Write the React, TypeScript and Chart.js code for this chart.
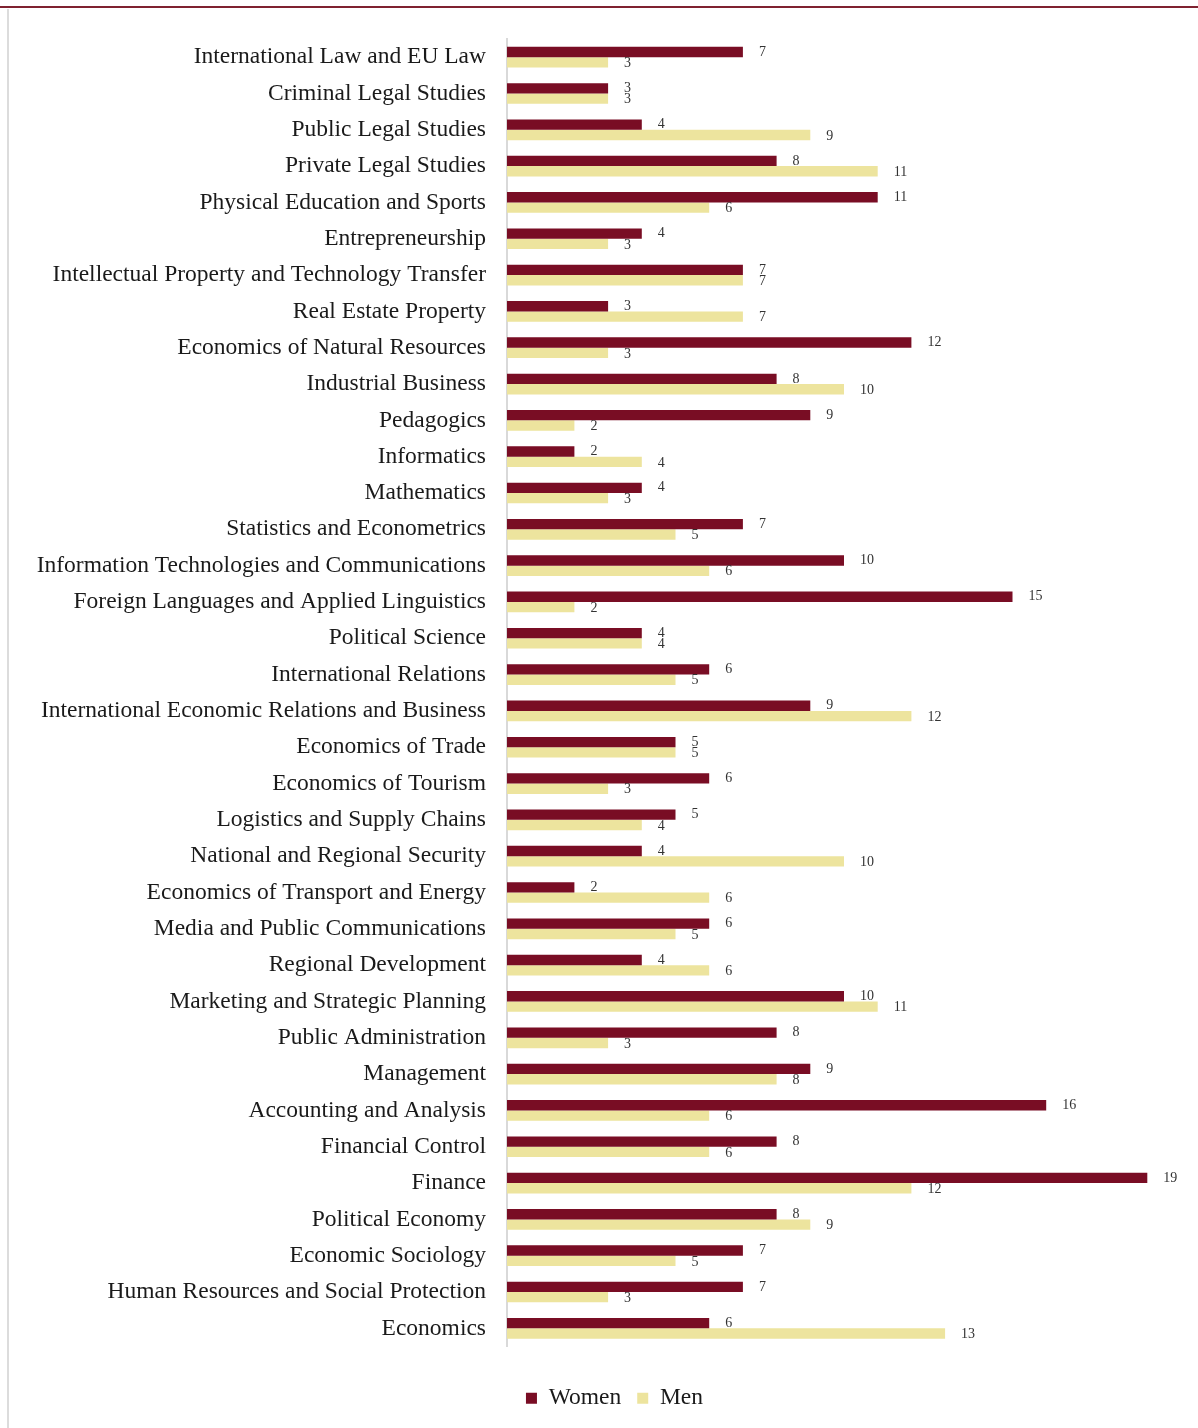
import React, { useEffect, useRef } from "react";
import { Chart, registerables } from "chart.js";

Chart.register(...registerables);

const categories = [
  "International Law and EU Law",
  "Criminal Legal Studies",
  "Public Legal Studies",
  "Private Legal Studies",
  "Physical Education and Sports",
  "Entrepreneurship",
  "Intellectual Property and Technology Transfer",
  "Real Estate Property",
  "Economics of Natural Resources",
  "Industrial Business",
  "Pedagogics",
  "Informatics",
  "Mathematics",
  "Statistics and Econometrics",
  "Information Technologies and Communications",
  "Foreign Languages and Applied Linguistics",
  "Political Science",
  "International Relations",
  "International Economic Relations and Business",
  "Economics of Trade",
  "Economics of Tourism",
  "Logistics and Supply Chains",
  "National and Regional Security",
  "Economics of Transport and Energy",
  "Media and Public Communications",
  "Regional Development",
  "Marketing and Strategic Planning",
  "Public Administration",
  "Management",
  "Accounting and Analysis",
  "Financial Control",
  "Finance",
  "Political Economy",
  "Economic Sociology",
  "Human Resources and Social Protection",
  "Economics",
];

const women = [7, 3, 4, 8, 11, 4, 7, 3, 12, 8, 9, 2, 4, 7, 10, 15, 4, 6, 9, 5, 6, 5, 4, 2, 6, 4, 10, 8, 9, 16, 8, 19, 8, 7, 7, 6];
const men = [3, 3, 9, 11, 6, 3, 7, 7, 3, 10, 2, 4, 3, 5, 6, 2, 4, 5, 12, 5, 3, 4, 10, 6, 5, 6, 11, 3, 8, 6, 6, 12, 9, 5, 3, 13];

const seriesNames = ["Women", "Men"];
const seriesColors = ["#790D24", "#EDE49E"];

const SERIF = "'Liberation Serif', 'Times New Roman', serif";

const valueLabels = {
  id: "valueLabels",
  afterDatasetsDraw(chart: any) {
    const ctx = chart.ctx;
    ctx.save();
    ctx.font = `14px ${SERIF}`;
    ctx.fillStyle = "#333333";
    ctx.textAlign = "left";
    ctx.textBaseline = "middle";
    chart.data.datasets.forEach((ds: any, di: number) => {
      const meta = chart.getDatasetMeta(di);
      meta.data.forEach((el: any, i: number) => {
        const v = ds.data[i];
        ctx.fillText(String(v), el.x + 16, el.y + (di === 0 ? 0 : 1));
      });
    });
    ctx.restore();
  },
};

const LEGEND_SHIFT = 24;

const shiftLegend = {
  id: "shiftLegend",
  afterLayout(chart: any) {
    const lg = chart.legend;
    if (lg) {
      lg.left += LEGEND_SHIFT;
      lg.right += LEGEND_SHIFT;
    }
  },
};

export default function App() {
  const canvasRef = useRef<HTMLCanvasElement | null>(null);

  useEffect(() => {
    if (!canvasRef.current) return;
    const chart = new Chart(canvasRef.current, {
      type: "bar",
      data: {
        labels: categories,
        datasets: [
          { label: seriesNames[0], data: women, backgroundColor: seriesColors[0] },
          { label: seriesNames[1], data: men, backgroundColor: seriesColors[1] },
        ],
      },
      options: {
        indexAxis: "y",
        responsive: false,
        animation: false,
        devicePixelRatio: 1,
        layout: { padding: { top: 39, right: 17, left: 0, bottom: 8 } },
        datasets: {
          bar: { categoryPercentage: 0.57, barPercentage: 1.0 },
        },
        scales: {
          x: {
            display: true,
            min: 0,
            max: 20,
            grid: { display: false },
            border: { display: false },
            ticks: { display: false },
            afterFit(scale: any) {
              scale.height = 24;
            },
          },
          y: {
            grid: { display: false },
            border: { display: true, color: "#d9d9d9", width: 2 },
            ticks: {
              autoSkip: false,
              padding: 13,
              color: "#1a1a1a",
              font: { family: SERIF, size: 23.5 },
            },
            afterFit(scale: any) {
              scale.width = 507;
            },
          },
        },
        plugins: {
          legend: {
            position: "bottom",
            labels: {
              color: "#1a1a1a",
              font: { family: SERIF, size: 23.5 },
              boxWidth: 11,
              boxHeight: 11,
              padding: 16,
            },
          },
          tooltip: { enabled: false },
        },
      },
      plugins: [valueLabels, shiftLegend],
    } as any);
    return () => chart.destroy();
  }, []);

  return (
    <div style={{ position: "absolute", left: 0, top: 0, width: 1198, height: 1428, background: "#ffffff" }}>
      <div style={{ position: "absolute", left: 0, top: 6, width: 1198, height: 2, background: "#7f2230" }} />
      <div style={{ position: "absolute", left: 7, top: 9, width: 2, height: 1419, background: "#dcdcdc" }} />
      <canvas ref={canvasRef} width={1198} height={1428} style={{ display: "block" }} />
    </div>
  );
}
